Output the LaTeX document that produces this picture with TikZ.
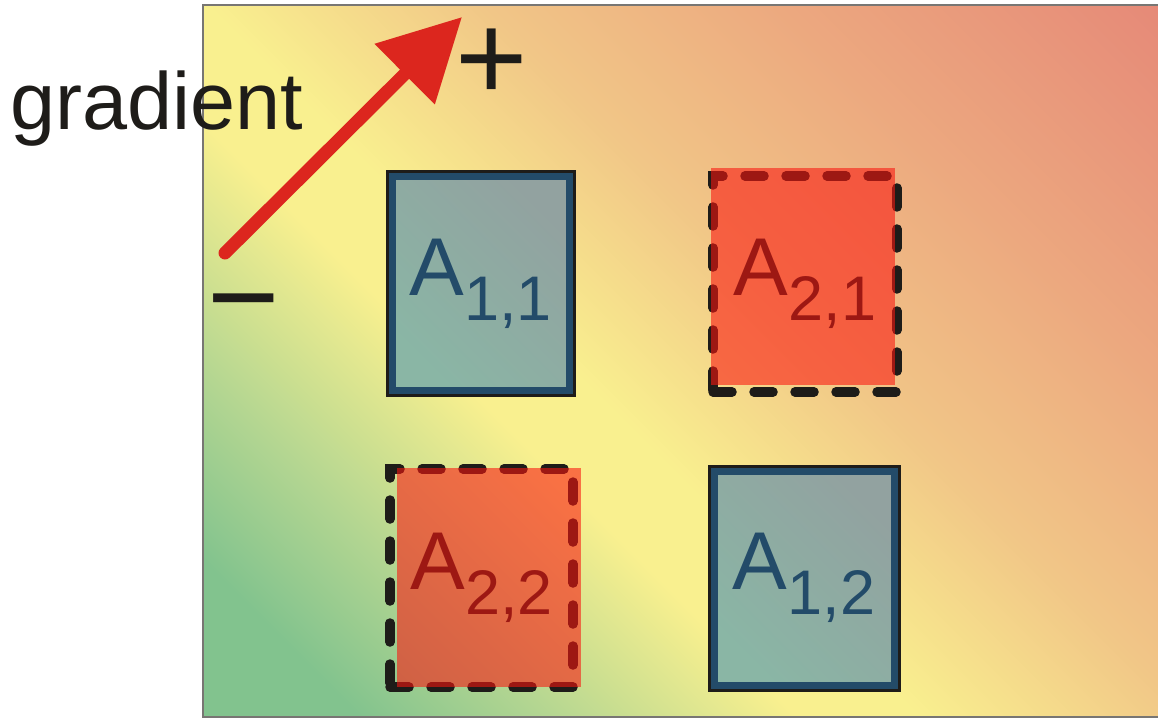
\documentclass[tikz,border=0pt]{standalone}
\usepackage{fontspec}
\setmainfont{Liberation Sans}
\usetikzlibrary{arrows.meta}

\definecolor{bggreen}{RGB}{130,195,142}
\definecolor{bglime}{RGB}{180,214,145}
\definecolor{bgyellow}{RGB}{249,240,143}
\definecolor{bgpeach}{RGB}{241,198,135}
\definecolor{bgorange}{RGB}{236,168,127}
\definecolor{bgsalmon}{RGB}{230,138,120}
\definecolor{frame}{RGB}{120,118,115}
\definecolor{arrowred}{RGB}{220,38,30}
\definecolor{cellnavy}{RGB}{35,75,105}
\definecolor{cellgreytop}{RGB}{146,162,160}
\definecolor{cellgreybot}{RGB}{138,182,165}
\definecolor{cellshadow}{RGB}{30,28,25}
\definecolor{veilred}{RGB}{250,22,15}

\pgfdeclareverticalshading{bgshade}{100bp}{color(0bp)=(bggreen); color(31.5bp)=(bggreen); color(36.7bp)=(bglime); color(43.5bp)=(bgyellow); color(46.8bp)=(bgyellow); color(54.4bp)=(bgpeach); color(62.6bp)=(bgorange); color(72.7bp)=(bgsalmon); color(100bp)=(bgsalmon)}

\newcommand{\cellname}[2]{A\raisebox{-25pt}{\fontsize{63}{63}\selectfont #1,#2}}

\tikzset{
  bluecell/.style={draw=cellnavy, line width=7pt, top color=cellgreytop, bottom color=cellgreybot, shading angle=-45,
    inner sep=0pt, text=cellnavy, font=\fontsize{82}{90}\selectfont,
    preaction={draw=cellshadow, line width=13pt}},
  redcell/.style={draw=cellshadow, line width=9.5pt, dash pattern=on 19pt off 22pt, line cap=round,
    inner sep=0pt, text=cellshadow, font=\fontsize{82}{90}\selectfont},
  redveil/.style={fill=veilred, fill opacity=0.58, inner sep=0pt},
  gradarrow/.style={draw=arrowred, line width=13pt, line cap=round, -{Triangle[length=81pt,width=82pt]}},
  signlabel/.style={inner sep=0pt, anchor=base, text=cellshadow, font=\fontsize{124}{130}\selectfont},
}

\begin{document}
\begin{tikzpicture}[x=1pt, y=-1pt]
\useasboundingbox (0,0) rectangle (1158,719);

% background field
\begin{scope}
  \clip (203,5) rectangle (1170,717);
  \shade[shading=bgshade, shading angle=-45] (680.5,362) +(-650,-650) rectangle +(650,650);
\end{scope}
\draw[frame, line width=2.5pt] (203,5) rectangle (1170,717);

% gradient direction
\coordinate (gradlow) at (225,253);
\coordinate (gradhigh) at (462,17);
\draw[gradarrow] (gradlow) -- (gradhigh);
\node[signlabel] (plus) at (492,101) {+};
\node[signlabel] (minus) at (244,339) {−};
\node[inner sep=0pt, anchor=base west, text=cellshadow, font=\fontsize{81}{90}\selectfont] (gradword) at (10,130) {gradient};

% cells
\node[bluecell, minimum width=177pt, minimum height=213pt] (a11) at (480.5,283.5) {\cellname{1}{1}};
\node[bluecell, minimum width=180pt, minimum height=214pt] (a12) at (804,578) {\cellname{1}{2}};

\node[redcell, minimum width=184pt, minimum height=216pt] (a21) at (805,284) {\cellname{2}{1}};
\node[redveil, minimum width=184pt, minimum height=217pt] (a21veil) at (803,276.5) {};
\node[redcell, minimum width=183pt, minimum height=218pt] (a22) at (481.5,578) {\cellname{2}{2}};
\node[redveil, minimum width=184pt, minimum height=219pt] (a22veil) at (489,577.5) {};
\end{tikzpicture}
\end{document}
